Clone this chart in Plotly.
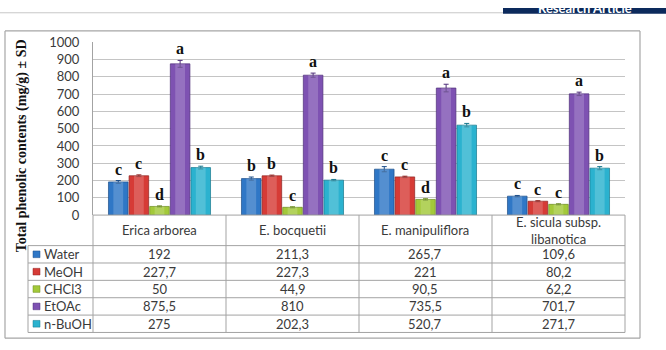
import plotly.graph_objects as go

W, H = 666, 350

# ---------------- data ----------------
categories = ["Erica arborea", "E. bocquetii", "E. manipuliflora", "E. sicula subsp. libanotica"]
category_labels = ["Erica arborea", "E. bocquetii", "E. manipuliflora", "E. sicula subsp.<br>libanotica"]
series_names = ["Water", "MeOH", "CHCl3", "EtOAc", "n-BuOH"]

water = [192, 211.3, 265.7, 109.6]
meoh = [227.7, 227.3, 221, 80.2]
chcl3 = [50, 44.9, 90.5, 62.2]
etoac = [875.5, 810, 735.5, 701.7]
nbuoh = [275, 202.3, 520.7, 271.7]

sd_water = [8, 9, 15, 4]
sd_meoh = [5, 4, 4, 3]
sd_chcl3 = [3, 3, 4, 3]
sd_etoac = [20, 12, 22, 10]
sd_nbuoh = [8, 4, 10, 9]

letters_water = ["c", "b", "c", "c"]
letters_meoh = ["c", "b", "c", "c"]
letters_chcl3 = ["d", "c", "d", "c"]
letters_etoac = ["a", "a", "a", "a"]
letters_nbuoh = ["b", "b", "b", "b"]

y_ticks = list(range(0, 1001, 100))
y_title = "Total phenolic contents (mg/g) ± SD"

values = [water, meoh, chcl3, etoac, nbuoh]
sds = [sd_water, sd_meoh, sd_chcl3, sd_etoac, sd_nbuoh]
letters = [letters_water, letters_meoh, letters_chcl3, letters_etoac, letters_nbuoh]

colors = ["#2f77c6", "#d63b36", "#a3c93a", "#7e52b2", "#2bb2cf"]
dark = ["#1d4f8a", "#8e2220", "#6a8a1e", "#4f2f7a", "#17788e"]

# ---------------- layout geometry (px) ----------------
PL, PR, PT, PB = 93, 625, 36, 217
TL = 28            # table left edge (legend column)
HB = 249           # header row bottom
RB = 340           # table bottom
NR = len(series_names)
RH = (RB - HB) / NR
BARGAP = 0.225
BGG = 0.05


def fx(x):
    return x / W


def fy(y):
    return 1 - y / H


def pline(x0, y0, x1, y1, color, width=1):
    return dict(type="line", xref="paper", yref="paper", x0=fx(x0), x1=fx(x1), y0=fy(y0), y1=fy(y1),
                line=dict(color=color, width=width), layer="above")


fig = go.Figure()

bar_w_units = (1 - BARGAP) / NR * (1 - BGG)
for k, name in enumerate(series_names):
    fig.add_trace(go.Bar(
        x=categories, y=values[k], name=name, offsetgroup=str(k),
        marker=dict(color=colors[k], line=dict(color=dark[k], width=0.7)),
        error_y=dict(type="data", array=sds[k], color=dark[k], thickness=1, width=2.5),
        showlegend=False,
    ))
    # soft highlight to mimic the cylinder shading
    fig.add_trace(go.Bar(
        x=categories, y=values[k], offsetgroup=str(k), width=bar_w_units * 0.5,
        marker=dict(color="rgba(255,255,255,0.18)", line=dict(width=0)),
        showlegend=False, hoverinfo="skip",
    ))

shapes = []
annotations = []

# page header
shapes.append(pline(0, 5, 503, 5, "#c8c8c8"))
shapes.append(dict(type="rect", xref="paper", yref="paper", x0=fx(503), x1=1, y0=fy(6), y1=1,
                   line=dict(width=0), fillcolor="#0c2a5c"))
annotations.append(dict(text="<b>Research Article</b>", xref="paper", yref="paper", x=fx(585), y=fy(0),
                        xanchor="center", yanchor="middle", showarrow=False,
                        font=dict(family="Lato", size=13, color="white")))
# outer frame
FC = "#a6a6a6"
shapes.append(pline(5, 24, 640, 24, FC, 1.2))
shapes.append(pline(5, 346, 640, 346, FC, 1.2))
shapes.append(pline(5, 24, 5, 346, FC, 1.2))
shapes.append(pline(640, 24, 640, 346, FC, 1.2))

# table lines
LC = "#a3a3a3"
shapes.append(pline(PL, PB, PR, PB, LC))
for r in range(NR + 1):
    yy = HB + r * RH
    shapes.append(pline(TL, yy, PR, yy, LC))
shapes.append(pline(TL, HB, TL, RB, LC))
ncat = len(categories)
cw = (PR - PL) / ncat
for i in range(ncat + 1):
    xx = PL + i * cw
    shapes.append(pline(xx, PB, xx, RB, LC))

TF = dict(family="Lato", size=13, color="#3a3a3a")
for i, lab in enumerate(category_labels):
    annotations.append(dict(text=lab, xref="paper", yref="paper", x=fx(PL + (i + 0.5) * cw), y=fy((PB + HB) / 2),
                            xanchor="center", yanchor="middle", showarrow=False, font=TF))

for k, name in enumerate(series_names):
    yc = HB + (k + 0.5) * RH
    shapes.append(dict(type="rect", xref="paper", yref="paper", x0=fx(33), x1=fx(40), y0=fy(yc + 3.5), y1=fy(yc - 3.5),
                       line=dict(color=dark[k], width=0.5), fillcolor=colors[k]))
    annotations.append(dict(text=name, xref="paper", yref="paper", x=fx(42), y=fy(yc),
                            xanchor="left", yanchor="middle", showarrow=False, font=TF))
    for i in range(ncat):
        txt = ("%g" % values[k][i]).replace(".", ",")
        annotations.append(dict(text=txt, xref="paper", yref="paper", x=fx(PL + (i + 0.5) * cw), y=fy(yc),
                                xanchor="center", yanchor="middle", showarrow=False, font=TF))

# significance letters
slot = (1 - BARGAP) * cw / NR
for k in range(NR):
    for i, c in enumerate(categories):
        annotations.append(dict(text="<b>%s</b>" % letters[k][i], xref="x", yref="y", x=c,
                                y=values[k][i] + sds[k][i], xshift=(k - (NR - 1) / 2) * slot, yshift=1,
                                xanchor="center", yanchor="bottom", showarrow=False,
                                font=dict(family="Liberation Serif", size=16, color="#111")))

# y title
annotations.append(dict(text="<b>%s</b>" % y_title, xref="paper", yref="paper", x=fx(22), y=fy(145),
                        textangle=-90, xanchor="center", yanchor="middle", showarrow=False,
                        font=dict(family="Liberation Serif", size=14, color="#111")))

fig.update_layout(
    width=W, height=H, autosize=False,
    margin=dict(l=0, r=0, t=0, b=0),
    paper_bgcolor="white", plot_bgcolor="rgba(0,0,0,0)",
    barmode="group", bargap=BARGAP, bargroupgap=BGG,
    shapes=shapes, annotations=annotations,
    xaxis=dict(domain=[fx(PL), fx(PR)], showticklabels=False, showgrid=False, zeroline=False,
               showline=False, ticks=""),
    yaxis=dict(domain=[fy(PB), fy(PT)], range=[0, 1000], tickvals=y_ticks, showgrid=True,
               gridcolor="#c4c4c4", gridwidth=1, zeroline=False, showline=True, linecolor=LC,
               ticks="", ticklabelstandoff=10,
               tickfont=dict(family="Lato", size=13, color="#3a3a3a")),
)

fig.write_html("out.html")
